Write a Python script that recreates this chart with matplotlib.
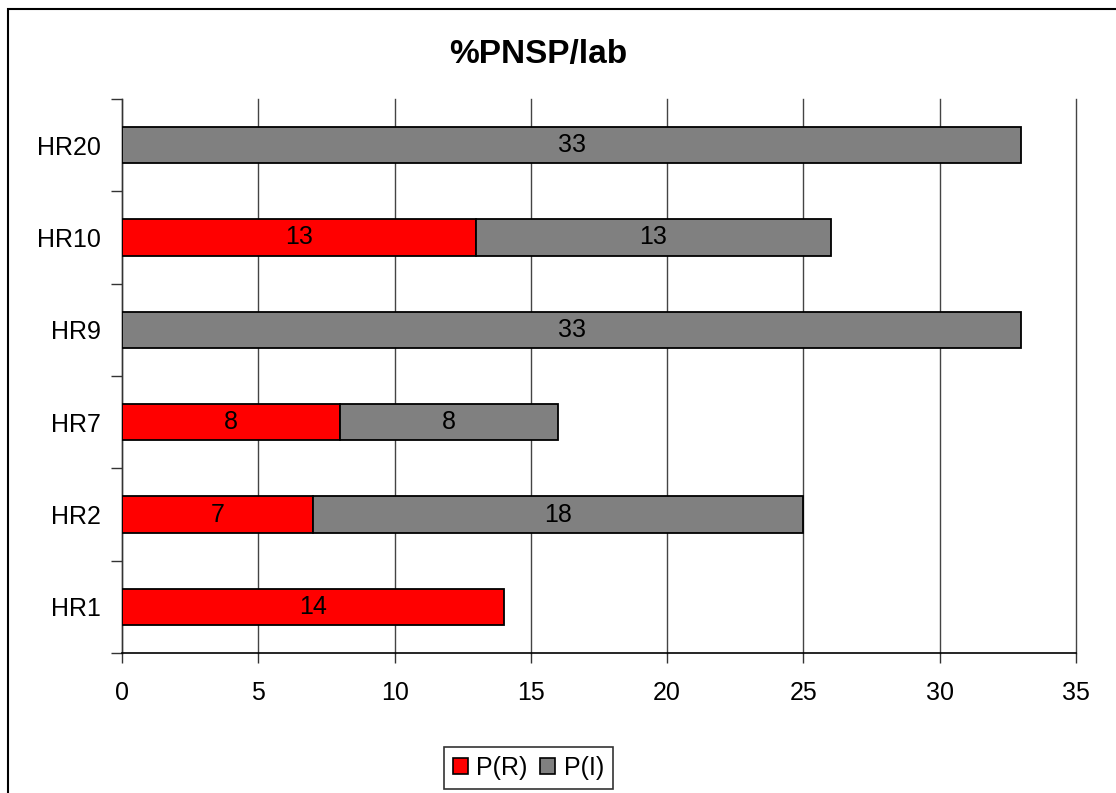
import matplotlib
matplotlib.use("Agg")
import matplotlib.pyplot as plt
from matplotlib.patches import Rectangle, Patch
import numpy as np

plt.rcParams['font.family'] = ['Liberation Sans', 'DejaVu Sans']

categories = ["HR1", "HR2", "HR7", "HR9", "HR10", "HR20"]
p_r = [14, 7, 8, 0, 13, 0]
p_i = [0, 18, 8, 33, 13, 33]
series_names = ["P(R)", "P(I)"]
x_ticks = [0, 5, 10, 15, 20, 25, 30, 35]
title = "%PNSP/lab"

W, H = 1116, 793
fig = plt.figure(figsize=(W / 100, H / 100), dpi=100)
ax = fig.add_axes([122 / W, 1 - 653 / H, (1076 - 122) / W, (653 - 99) / H])

FS = 18
y = np.arange(len(categories))
bh = 0.39
red = "#FF0000"
gray = "#808080"
b1 = ax.barh(y, p_r, height=bh, color=red, edgecolor="black", linewidth=1.3, zorder=3)
b2 = ax.barh(y, p_i, left=p_r, height=bh, color=gray, edgecolor="black", linewidth=1.3, zorder=3)

for i in range(len(categories)):
    if p_r[i] > 0:
        ax.text(p_r[i] / 2, y[i], str(p_r[i]), ha="center", va="center", fontsize=FS, zorder=4)
    if p_i[i] > 0:
        ax.text(p_r[i] + p_i[i] / 2, y[i], str(p_i[i]), ha="center", va="center", fontsize=FS, zorder=4)

# hide zero-width bars
for bars, vals in ((b1, p_r), (b2, p_i)):
    for bar, v in zip(bars, vals):
        if v == 0:
            bar.set_visible(False)

ax.set_xlim(0, 35)
ax.set_ylim(-0.5, len(categories) - 0.5)
ax.set_xticks(x_ticks)
ax.set_yticks(y)
ax.set_yticklabels(categories)
ax.set_yticks(np.arange(-0.5, len(categories), 1.0), minor=True)
ax.tick_params(axis="y", which="major", length=0, pad=15.5, labelsize=FS)
ax.tick_params(axis="y", which="minor", length=8, width=1, color="#333333", direction="out")
ax.tick_params(axis="x", which="major", length=7, width=1, color="#333333", direction="out", pad=13.5, labelsize=FS)

ax.xaxis.grid(True, color="#444444", linewidth=1, zorder=0)
ax.set_axisbelow(True)
for line in ax.get_xgridlines():
    line.set_clip_on(False)
for s in ("top", "right"):
    ax.spines[s].set_visible(False)
ax.spines["left"].set_color("#333333")
ax.spines["bottom"].set_color("black")
ax.spines["left"].set_linewidth(1)
ax.spines["bottom"].set_linewidth(1.2)

fig.text(538 / W, 1 - 55 / H, title, ha="center", va="center", fontsize=24, fontweight="bold")

handles = [Patch(facecolor=red, edgecolor="black", linewidth=1.2),
           Patch(facecolor=gray, edgecolor="black", linewidth=1.2)]
leg = fig.legend(handles, series_names, loc="upper left", bbox_to_anchor=(444 / W, 1 - 747 / H),
                 borderaxespad=0, ncol=2, fontsize=18, frameon=True, fancybox=False,
                 handlelength=0.6, handleheight=0.6, handletextpad=0.35, columnspacing=0.5,
                 borderpad=0.35)
leg.get_frame().set_edgecolor("black")
leg.get_frame().set_linewidth(1.2)

fig.patches.append(Rectangle((8 / W, -0.2), 2, 1 - 9 / H + 0.2, transform=fig.transFigure,
                             fill=False, edgecolor="black", linewidth=1.5))

fig.savefig("out.png", dpi=100)
